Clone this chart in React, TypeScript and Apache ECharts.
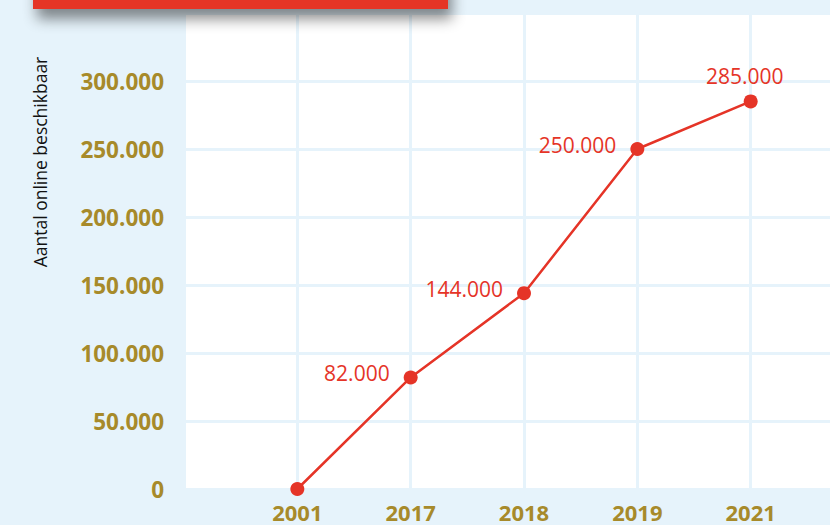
import React, { useEffect, useRef } from "react";
import * as echarts from "echarts";

const categories = ["2001", "2017", "2018", "2019", "2021"];
const values = [0, 82000, 144000, 250000, 285000];
const labelPositions = ["none", "left", "left", "left", "top"];
const yTicks = { min: 0, max: 350000, interval: 50000 };
const yAxisTitle = "Aantal online beschikbaar";

const GOLD = "#a78a2a";
const RED = "#e53427";
const BG = "#e6f3fb";

const fmt = (v: number) => String(v).replace(/\B(?=(\d{3})+(?!\d))/g, ".");

export default function App() {
  const ref = useRef<HTMLDivElement>(null);
  useEffect(() => {
    const chart = echarts.init(ref.current!, null, { renderer: "svg" });
    const xData = ["", ...categories, ""];
    const seriesData: any[] = [null];
    values.forEach((v, i) => {
      const pos = labelPositions[i];
      seriesData.push({
        value: v,
        label:
          pos === "none"
            ? { show: false }
            : pos === "top"
            ? { show: true, position: "top", distance: 8, offset: [-6, 0] }
            : { show: true, position: "left", distance: 14, offset: [0, -4] },
      });
    });
    seriesData.push(null);
    chart.setOption({
      animation: false,
      backgroundColor: BG,
      textStyle: { fontFamily: "Open Sans" },
      grid: {
        left: 184,
        top: 13,
        height: 476,
        width: 680,
        outerBoundsMode: "none",
        containLabel: false,
        show: true,
        backgroundColor: "#ffffff",
        borderWidth: 0,
      },
      xAxis: {
        type: "category",
        boundaryGap: false,
        data: xData,
        axisLine: { show: false },
        axisTick: { show: false },
        axisLabel: {
          color: GOLD,
          fontWeight: "bold",
          fontSize: 22,
          fontFamily: "Open Sans",
          margin: 12,
          interval: 0,
        },
        splitLine: { show: true, lineStyle: { color: BG, width: 3 } },
      },
      yAxis: {
        type: "value",
        min: yTicks.min,
        max: yTicks.max,
        interval: yTicks.interval,
        axisLine: { show: false },
        axisTick: { show: false },
        axisLabel: {
          color: GOLD,
          fontWeight: "bold",
          fontSize: 22.5,
          fontFamily: "Open Sans",
          margin: 20,
          showMaxLabel: false,
          formatter: (v: number) => fmt(v),
        },
        splitLine: { show: true, lineStyle: { color: BG, width: 3 } },
      },
      series: [
        {
          type: "line",
          data: seriesData,
          connectNulls: false,
          symbol: "circle",
          symbolSize: 14,
          itemStyle: { color: RED },
          lineStyle: { color: RED, width: 2.5 },
          label: {
            color: RED,
            fontSize: 21,
            fontFamily: "Open Sans",
            formatter: (p: any) => fmt(p.value),
          },
          z: 3,
        },
      ],
      graphic: [
        {
          type: "text",
          x: 40,
          y: 162,
          rotation: Math.PI / 2,
          style: {
            text: yAxisTitle,
            fill: "#111111",
            font: "17.5px 'Open Sans'",
            align: "center",
            verticalAlign: "middle",
          },
        },
        {
          type: "rect",
          z: 100,
          shape: { x: 33, y: -40, width: 415, height: 49 },
          style: {
            fill: RED,
            shadowBlur: 14,
            shadowOffsetX: 4,
            shadowOffsetY: 10,
            shadowColor: "rgba(0,0,0,0.45)",
          },
        },
      ],
    });
    return () => chart.dispose();
  }, []);
  return (
    <div
      ref={ref}
      style={{ position: "fixed", left: 0, top: 0, width: 830, height: 525 }}
    />
  );
}
